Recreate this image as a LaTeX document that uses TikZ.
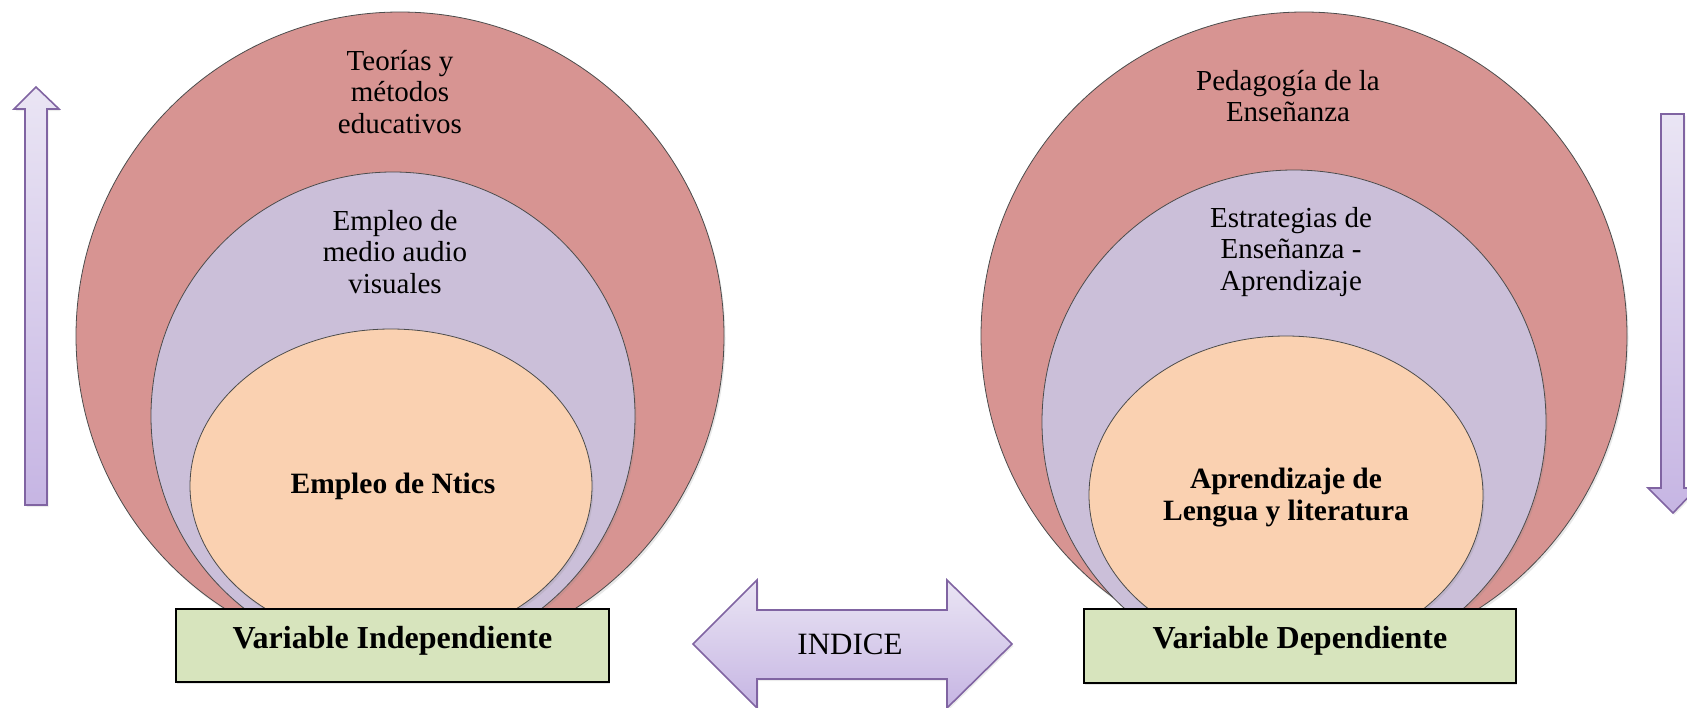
\documentclass[tikz,border=0pt]{standalone}
\usepackage{fontspec}
\setmainfont{Liberation Serif}
\usetikzlibrary{shapes.geometric,shadows}
\definecolor{redc}{HTML}{D79492}
\definecolor{purc}{HTML}{CBBFD9}
\definecolor{orac}{HTML}{FAD1B1}
\definecolor{boxc}{HTML}{D7E4BD}
\definecolor{arrline}{HTML}{8064A2}
\definecolor{arrtop}{HTML}{EAE5F4}
\definecolor{arrbot}{HTML}{C6B5E3}
\tikzset{
  circ/.style={ellipse, draw=black!70, line width=0.8pt, inner sep=0pt,
    drop shadow={shadow xshift=1.5pt, shadow yshift=-2.5pt, opacity=0.18}},
  lbl/.style={align=center, inner sep=0pt, font=\fontsize{29}{31.5}\selectfont},
  blbl/.style={align=center, inner sep=0pt, font=\fontsize{29.5}{32}\selectfont\bfseries},
  varbox/.style={draw=black, line width=1.8pt, fill=boxc, inner sep=0pt,
    font=\fontsize{32}{36}\selectfont\bfseries,
    drop shadow={shadow xshift=1.5pt, shadow yshift=-2pt, opacity=0.2}},
  arrowshape/.style={draw=arrline, line width=1.6pt, line join=miter,
    top color=arrtop, bottom color=arrbot}
}
\begin{document}
\begin{tikzpicture}[x=1pt,y=-1pt]
\useasboundingbox (0,0) rectangle (1687,707);
% left group
\node[circ, fill=redc, minimum width=648pt, minimum height=648pt] (lred) at (400,336) {};
\node[circ, fill=purc, minimum width=484pt, minimum height=488pt] (lpur) at (393,416) {};
\node[circ, fill=orac, minimum width=402pt, minimum height=314pt] (lora) at (391,486) {};
\node[lbl] (lt1) at (400,92) {Teorías y\\métodos\\educativos};
\node[lbl] (lt2) at (395,252) {Empleo de\\medio audio\\visuales};
\node[blbl] (lt3) at (393,486) {Empleo de Ntics};
\node[varbox, minimum width=433pt, minimum height=73pt, anchor=north west] (lbox) at (175,608) {};
\node (lboxt) at (lbox.center) [font=\fontsize{32}{36}\selectfont\bfseries, inner sep=0pt, yshift=5pt] {Variable Independiente};
% right group
\node[circ, fill=redc, minimum width=646pt, minimum height=648pt] (rred) at (1304,336) {};
\node[circ, fill=purc, minimum width=504pt, minimum height=504pt] (rpur) at (1294,422) {};
\node[circ, fill=orac, minimum width=394pt, minimum height=318pt] (rora) at (1286,495) {};
\node[lbl] (rt1) at (1288,96) {Pedagogía de la\\Enseñanza};
\node[lbl] (rt2) at (1291,252) {Estrategias de\\Enseñanza -\\Aprendizaje};
\node[blbl] (rt3) at (1286,498) {Aprendizaje de\\Lengua y literatura};
\node[varbox, minimum width=432pt, minimum height=74pt, anchor=north west] (rbox) at (1083,608) {};
\node (rboxt) at (rbox.center) [font=\fontsize{32}{36}\selectfont\bfseries, inner sep=0pt, yshift=5pt] {Variable Dependiente};
% double arrow
\path[arrowshape, drop shadow={shadow xshift=1.5pt, shadow yshift=-2pt, opacity=0.15}]
  (693,644) -- (757,580) -- (757,610) -- (947,610) -- (947,580) -- (1012,644)
  -- (947,708) -- (947,679) -- (757,679) -- (757,708) -- cycle;
\node[font=\fontsize{31}{34}\selectfont, inner sep=0pt] (indice) at (850,644) {INDICE};
% up arrow left
\path[arrowshape, drop shadow={shadow xshift=1.5pt, shadow yshift=-2pt, opacity=0.15}]
  (36,87) -- (59,109) -- (47,109) -- (47,505) -- (25,505) -- (25,109) -- (14,109) -- cycle;
% down arrow right
\path[arrowshape, drop shadow={shadow xshift=1.5pt, shadow yshift=-2pt, opacity=0.15}]
  (1661,114) -- (1684,114) -- (1684,488) -- (1697,488) -- (1673,513) -- (1648,488) -- (1661,488) -- cycle;
\end{tikzpicture}
\end{document}
